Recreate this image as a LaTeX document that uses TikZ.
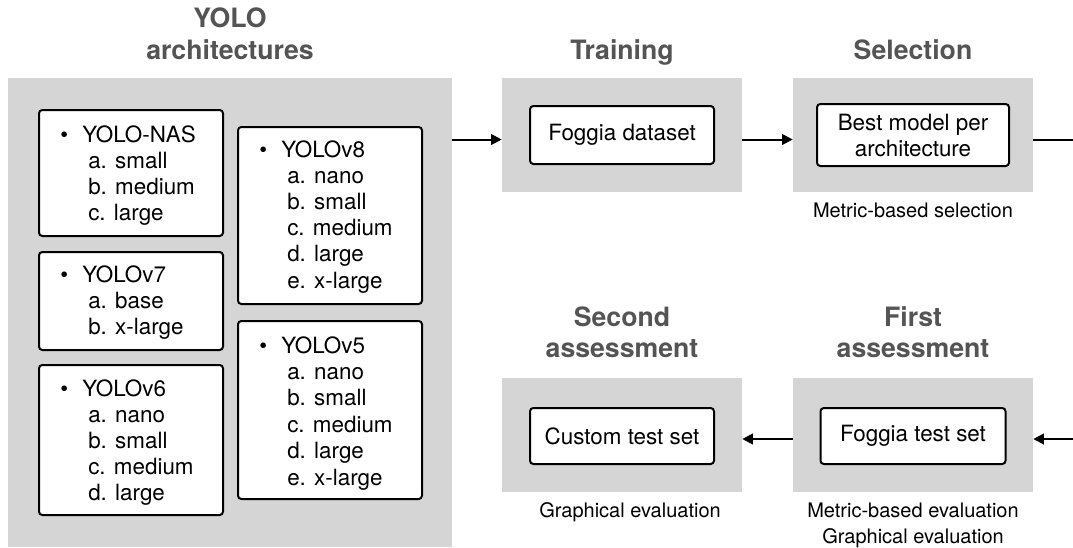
\documentclass[tikz,border=0pt]{standalone}
\usepackage{fontspec}
\setmainfont{TeX Gyre Heros}
\usetikzlibrary{arrows.meta}
\definecolor{panelgray}{HTML}{D5D5D5}
\definecolor{titlegray}{HTML}{545454}
\begin{document}
\begin{tikzpicture}[x=0.75pt,y=-0.75pt,
  panel/.style={fill=panelgray,draw=none,inner sep=0pt},
  whitebox/.style={fill=white,draw=black,line width=1.5pt,rounded corners=2.5pt,inner sep=0pt,
     font=\fontsize{16.8pt}{19.5pt}\selectfont,align=center},
  item/.style={inner sep=0pt,font=\fontsize{16.8pt}{19.5pt}\selectfont,anchor=base west},
  heading/.style={inner sep=0pt,font=\bfseries\fontsize{20pt}{24pt}\selectfont,text=titlegray,anchor=base},
  note/.style={inner sep=0pt,font=\fontsize{15pt}{18pt}\selectfont,anchor=base},
  conn/.style={line width=1.5pt},
  arr/.style={line width=1.5pt,-{Triangle[length=8pt,width=8pt]}}]
\useasboundingbox (0,0) rectangle (1073,547);
% panels
\node[panel,minimum width=444*0.75pt,minimum height=469*0.75pt] (arch) at (230,312.5) {};
\node[panel,minimum width=240*0.75pt,minimum height=114*0.75pt] (train) at (622,135) {};
\node[panel,minimum width=240*0.75pt,minimum height=114*0.75pt] (sel) at (913,135) {};
\node[panel,minimum width=240*0.75pt,minimum height=114*0.75pt] (second) at (622,435) {};
\node[panel,minimum width=240*0.75pt,minimum height=114*0.75pt] (first) at (913,435) {};
% headings
\node[heading] (h-yolo1) at (230,27) {YOLO};
\node[heading] (h-yolo2) at (230,59) {architectures};
\node[heading] (h-train) at (622,59) {Training};
\node[heading] (h-sel) at (913,59) {Selection};
\node[heading] (h-sec1) at (622,326) {Second};
\node[heading] (h-sec2) at (622,357) {assessment};
\node[heading] (h-fir1) at (913,326) {First};
\node[heading] (h-fir2) at (913,357) {assessment};
% list boxes
\node[whitebox,minimum width=184*0.75pt,minimum height=126*0.75pt] (nas) at (131,173) {};
\node[whitebox,minimum width=184*0.75pt,minimum height=177*0.75pt] (v8) at (330,215.5) {};
\node[whitebox,minimum width=184*0.75pt,minimum height=98*0.75pt] (v7) at (131,301) {};
\node[whitebox,minimum width=184*0.75pt,minimum height=150*0.75pt] (v6) at (131,440) {};
\node[whitebox,minimum width=184*0.75pt,minimum height=178*0.75pt] (v5) at (330,410) {};
% list texts
\node[item] (nas-h) at (60,142) {\makebox[16.5pt][l]{\textbullet}YOLO-NAS};
\foreach \t [count=\i] in {a. small,b. medium,c. large}
  \node[item] (nas-\i) at (88,{142+26*\i}) {\t};
\node[item] (v8-h) at (259,157) {\makebox[16.5pt][l]{\textbullet}YOLOv8};
\foreach \t [count=\i] in {a. nano,b. small,c. medium,d. large,e. x-large}
  \node[item] (v8-\i) at (287,{157+26.2*\i}) {\t};
\node[item] (v7-h) at (60,282) {\makebox[16.5pt][l]{\textbullet}YOLOv7};
\foreach \t [count=\i] in {a. base,b. x-large}
  \node[item] (v7-\i) at (88,{282+26*\i}) {\t};
\node[item] (v6-h) at (60,396) {\makebox[16.5pt][l]{\textbullet}YOLOv6};
\foreach \t [count=\i] in {a. nano,b. small,c. medium,d. large}
  \node[item] (v6-\i) at (88,{396+26.2*\i}) {\t};
\node[item] (v5-h) at (259,353) {\makebox[16.5pt][l]{\textbullet}YOLOv5};
\foreach \t [count=\i] in {a. nano,b. small,c. medium,d. large,e. x-large}
  \node[item] (v5-\i) at (287,{353+26.4*\i}) {\t};
% inner boxes
\node[whitebox,minimum width=184*0.75pt,minimum height=58*0.75pt] (ds) at (622,135) {Foggia dataset};
\node[whitebox,minimum width=192*0.75pt,minimum height=62*0.75pt] (best) at (913,135) {Best model per\\architecture};
\node[whitebox,minimum width=184*0.75pt,minimum height=56*0.75pt] (custom) at (622,436) {Custom test set};
\node[whitebox,minimum width=185*0.75pt,minimum height=56*0.75pt] (ftest) at (913,436) {Foggia test set};
% notes
\node[note] (n-sel) at (913,217) {Metric-based selection};
\node[note] (n-sec) at (630,517) {Graphical evaluation};
\node[note] (n-fir1) at (913,517) {Metric-based evaluation};
\node[note] (n-fir2) at (913,543) {Graphical evaluation};
% connectors
\coordinate (rowT) at (0,139.5);
\coordinate (rowB) at (0,439);
\coordinate (edgeT) at (1073,139.5);
\coordinate (edgeB) at (1073,439);
\draw[arr] (arch.east |- rowT) -- (train.west |- rowT);
\draw[arr] (train.east |- rowT) -- (sel.west |- rowT);
\draw[conn] (sel.east |- rowT) -- (edgeT);
\draw[arr] (edgeB) -- (first.east |- rowB);
\draw[arr] (first.west |- rowB) -- (second.east |- rowB);
\end{tikzpicture}
\end{document}
